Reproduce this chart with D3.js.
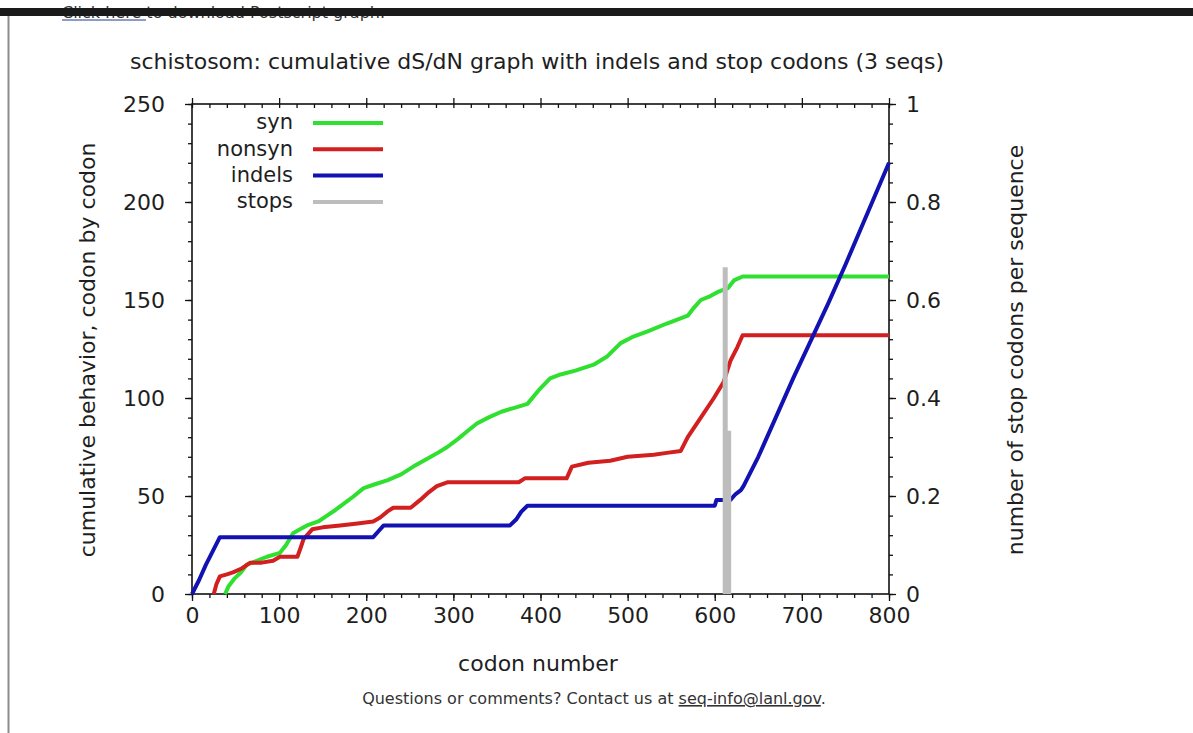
<!DOCTYPE html>
<meta charset="utf-8">
<script src="https://d3js.org/d3.v7.min.js"></script>
<style>
  body { margin: 0; background: #fff; }
  text { font-family: "DejaVu Sans", Verdana, sans-serif; }
</style>
<div id="my_dataviz"></div>
<script>

// tick labels
var codonTicks = [0, 100, 200, 300, 400, 500, 600, 700, 800];
var leftTicks = [0, 50, 100, 150, 200, 250];
var rightTicks = [0, 0.2, 0.4, 0.6, 0.8, 1];

// cumulative series, [codon, value]
var syn = [[38,0],[42,4],[49,8],[56,11],[63,15],[75,17],[86,19],[101,21],[108,25],[116,31],
  [124,33],[132,35],[145,37],[155,40],[165,43],[174,46],[186,50],[197,54],[210,56],[224,58],
  [240,61],[254,65],[270,69],[282,72],[293,75],[305,79],[316,83],[327,87],[340,90],[355,93],
  [370,95],[385,97],[398,104],[411,110],[423,112],[440,114],[461,117],[476,121],[492,128],
  [505,131],[523,134],[545,138],[569,142],[576,146],[584,150],[595,152],[603,154],[615,156],
  [622,160],[632,162],[800,162]];

var nonsyn = [[25,0],[28,5],[32,9],[40,10],[47,11],[57,13],[67,16],[80,16],[93,17],[101,19],
  [121,19],[125,24],[128,28],[138,33],[150,34],[170,35],[190,36],[208,37],[216,39],[224,42],
  [231,44],[251,44],[262,48],[272,52],[281,55],[293,57],[375,57],[382,59],[430,59],[436,65],
  [455,67],[480,68],[500,70],[530,71],[545,72],[561,73],[569,80],[584,90],[599,100],[610,108],
  [618,119],[626,126],[632,132],[800,132]];

var indels = [[0,0],[8,7],[16,15],[24,22],[32,29],[208,29],[214,32],[220,35],[365,35],[372,38],
  [378,42],[385,45],[600,45],[602,48],[618,48],[624,51],[630,53],[633,55],[650,70],[670,90],
  [690,110],[710,129],[730,148],[750,168],[775,194],[800,220]];

// stop codons per sequence
var stopCodon = [612, 616];
var stopValue = [0.667, 0.333];

var seriesNames = ["syn", "nonsyn", "indels", "stops"];
var seriesColors = ["#30e030", "#d21f1f", "#1212b2", "#bdbdbd"];

var W = 1193, H = 733;
var pLeft = 192, pRight = 889, pTop = 104, pBottom = 594;

var svg = d3.select("#my_dataviz")
  .append("svg")
    .attr("width", W)
    .attr("height", H);

// page bits around the chart
svg.append("text")
    .attr("x", 62).attr("y", 18)
    .style("font-size", "16px")
    .style("fill", "#333")
    .text("Click here to download Postscript graph.");
svg.append("line")
    .attr("x1", 62).attr("x2", 146).attr("y1", 20).attr("y2", 20)
    .style("stroke", "#1a3a8a").style("stroke-width", 1);
svg.append("rect")
    .attr("x", 0).attr("y", 8).attr("width", W).attr("height", 8)
    .style("fill", "#1a1a1a");
svg.append("line")
    .attr("x1", 8.5).attr("x2", 8.5).attr("y1", 16).attr("y2", H)
    .style("stroke", "#8c8c8c").style("stroke-width", 2);

var x = d3.scaleLinear().domain([0, 800]).range([pLeft, pRight]);
var y = d3.scaleLinear().domain([0, 250]).range([pBottom, pTop]);
var y2 = d3.scaleLinear().domain([0, 1]).range([pBottom, pTop]);

// minor ticks
svg.append("g")
    .attr("transform", "translate(0," + pBottom + ")")
    .call(d3.axisBottom(x).tickValues(d3.range(0, 801, 20)).tickSize(4).tickFormat(""));
svg.append("g")
    .attr("transform", "translate(0," + pTop + ")")
    .call(d3.axisBottom(x).tickValues(d3.range(0, 801, 20)).tickSize(4).tickFormat(""));
svg.append("g")
    .attr("transform", "translate(" + pLeft + ",0)")
    .call(d3.axisLeft(y).tickValues(d3.range(0, 251, 10)).tickSize(4).tickFormat(""));
svg.append("g")
    .attr("transform", "translate(" + pRight + ",0)")
    .call(d3.axisRight(y2).tickValues(d3.range(0, 1.001, 0.04)).tickSize(4).tickFormat(""));

// major ticks with labels
svg.append("g")
    .attr("class", "ax")
    .attr("transform", "translate(0," + pBottom + ")")
    .call(d3.axisBottom(x).tickValues(codonTicks).tickSize(7).tickPadding(6).tickFormat(d3.format("d")));
svg.append("g")
    .attr("transform", "translate(0," + pTop + ")")
    .call(d3.axisTop(x).tickValues(codonTicks).tickSize(6).tickFormat(""));
svg.append("g")
    .attr("class", "ax")
    .attr("transform", "translate(" + pLeft + ",0)")
    .call(d3.axisLeft(y).tickValues(leftTicks).tickSize(7).tickPadding(20).tickFormat(d3.format("d")));
svg.append("g")
    .attr("class", "ax")
    .attr("transform", "translate(" + pRight + ",0)")
    .call(d3.axisRight(y2).tickValues(rightTicks).tickSize(7).tickPadding(10).tickFormat(function(d){ return String(+d.toFixed(1)) }));

svg.selectAll(".domain").remove();
svg.selectAll(".tick line").style("stroke", "#111").style("stroke-width", 1.3);
svg.selectAll(".ax .tick text")
    .style("font-family", '"DejaVu Sans", sans-serif')
    .style("font-size", "22px")
    .style("fill", "#1e1e1e");

// frame
svg.append("rect")
    .attr("x", pLeft).attr("y", pTop)
    .attr("width", pRight - pLeft).attr("height", pBottom - pTop)
    .style("fill", "none").style("stroke", "#111").style("stroke-width", 1.6);

// lines
var line = d3.line()
    .x(function(d){ return x(d[0]) })
    .y(function(d){ return y(d[1]) });

[syn, nonsyn, indels].forEach(function(s, i){
  svg.append("path")
      .datum(s)
      .attr("d", line)
      .style("fill", "none")
      .style("stroke", seriesColors[i])
      .style("stroke-width", 4)
      .style("stroke-linejoin", "round");
});

// stop impulses
svg.selectAll("mystops")
  .data(stopCodon)
  .enter()
  .append("line")
    .attr("x1", function(d){ return x(d) })
    .attr("x2", function(d){ return x(d) })
    .attr("y1", y2(0))
    .attr("y2", function(d, i){ return y2(stopValue[i]) })
    .style("stroke", seriesColors[3])
    .style("stroke-width", 5);

// legend
svg.selectAll("mylabels")
  .data(seriesNames)
  .enter()
  .append("text")
    .attr("x", 293)
    .attr("y", function(d, i){ return 122 + i * 26.3 })
    .attr("dy", "0.35em")
    .style("text-anchor", "end")
    .style("font-size", "21px")
    .style("fill", "#1e1e1e")
    .text(function(d){ return d });
svg.selectAll("mylines")
  .data(seriesNames)
  .enter()
  .append("line")
    .attr("x1", 313).attr("x2", 383)
    .attr("y1", function(d, i){ return 123 + i * 26.3 })
    .attr("y2", function(d, i){ return 123 + i * 26.3 })
    .style("stroke", function(d, i){ return seriesColors[i] })
    .style("stroke-width", 4);

// titles
svg.append("text")
    .attr("x", 537).attr("y", 69)
    .style("text-anchor", "middle")
    .style("font-size", "22px")
    .style("fill", "#1e1e1e")
    .text("schistosom: cumulative dS/dN graph with indels and stop codons (3 seqs)");

svg.append("text")
    .attr("x", 538).attr("y", 671)
    .style("text-anchor", "middle")
    .style("font-size", "22px")
    .style("fill", "#1e1e1e")
    .text("codon number");

svg.append("text")
    .attr("transform", "translate(95,350) rotate(-90)")
    .style("text-anchor", "middle")
    .style("font-size", "22px")
    .style("fill", "#1e1e1e")
    .text("cumulative behavior, codon by codon");

svg.append("text")
    .attr("transform", "translate(1023,350) rotate(-90)")
    .style("text-anchor", "middle")
    .style("font-size", "22px")
    .style("fill", "#1e1e1e")
    .text("number of stop codons per sequence");

// footer
var foot = svg.append("text")
    .attr("x", 594).attr("y", 704)
    .style("text-anchor", "middle")
    .style("font-size", "16px")
    .style("fill", "#333");
foot.append("tspan").text("Questions or comments? Contact us at ");
foot.append("tspan").style("text-decoration", "underline").text("seq-info@lanl.gov");
foot.append("tspan").text(".");

</script>
